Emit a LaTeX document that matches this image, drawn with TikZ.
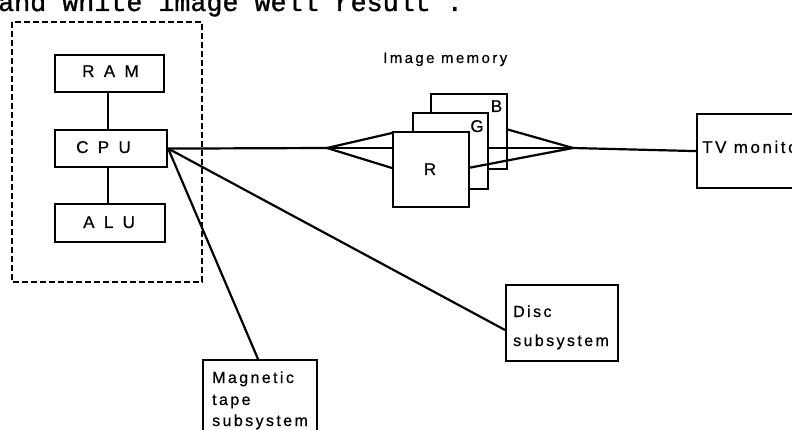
\documentclass[tikz,border=0pt]{standalone}
\usepackage{fontspec}
\setmainfont{Liberation Sans}
\newfontfamily\labfont[LetterSpace=15,FakeBold=0.6]{Liberation Sans}
\newfontfamily\widefont[LetterSpace=55,FakeBold=0.6]{Liberation Sans}
\newfontfamily\memfont[LetterSpace=16,FakeBold=0.4]{Liberation Sans}
\newfontfamily\planefont[FakeBold=0.6]{Liberation Sans}
\newfontfamily\twfont[FakeBold=1.2]{Liberation Mono}
\tikzset{
  box/.style={draw, line width=2.2, fill=white, inner sep=0pt},
  conn/.style={line width=2.2},
  lab/.style={inner sep=0pt, anchor=base west, font=\labfont\fontsize{16}{16}\selectfont},
  widelab/.style={inner sep=0pt, anchor=base west, font=\widefont\fontsize{17}{17}\selectfont},
  plane/.style={inner sep=0pt, anchor=base, font=\planefont\fontsize{17}{17}\selectfont},
}
\begin{document}
\begin{tikzpicture}[x=1pt,y=-1pt]
\useasboundingbox (0,0) rectangle (792,430);
\clip (0,0) rectangle (792,430);
\fill[white] (0,0) rectangle (792,430);
% top text line (cut off)
\node[inner sep=0pt, anchor=base west, font=\twfont\fontsize{26.7}{26.7}\selectfont] (toptext) at (-2,11) {and white image well result .};
% dashed frame
\draw[line width=2, dash pattern=on 6pt off 3pt] (12,22) rectangle (202,282);
% CPU group
\node[box, minimum width=109, minimum height=37, anchor=north west] (ram) at (54,54) {};
\node[box, minimum width=112, minimum height=37, anchor=north west] (cpu) at (54,129) {};
\node[box, minimum width=110, minimum height=38, anchor=north west] (alu) at (54,203) {};
\node[widelab] (ramt) at (82,77) {RAM};
\node[widelab] (cput) at (76,153) {CPU};
\node[widelab] (alut) at (83,228) {ALU};
\coordinate (ramb) at (108,91);
\coordinate (cput1) at (108,129);
\coordinate (cpub) at (108,166);
\coordinate (alut1) at (108,203);
\draw[conn] (ramb) -- (cput1);
\draw[conn] (cpub) -- (alut1);
% image memory
\node[inner sep=0pt, anchor=base west, font=\memfont\fontsize{15}{15}\selectfont] (memt) at (383,63) {Image memory};
\node[box, minimum width=76, minimum height=75, anchor=north west] (bplane) at (430,93) {};
\node[box, minimum width=75, minimum height=76, anchor=north west] (gplane) at (412,112) {};
\node[box, minimum width=76, minimum height=75, anchor=north west] (rplane) at (392,131) {};
\node[plane] (bt) at (496.5,112) {B};
\node[plane] (gt) at (477,132) {G};
\node[plane] (rt) at (430,175) {R};
\coordinate (lapex) at (327,148);
\coordinate (rapex) at (573,148);
\coordinate (rin1) at (392,133);
\coordinate (rin2) at (392,148);
\coordinate (rin3) at (392,168);
\coordinate (bout) at (506,129);
\coordinate (gout) at (487,148);
\coordinate (rout) at (468,168);
\draw[conn] (cpu.east) -- (lapex);
\draw[conn] (lapex) -- (rin1);
\draw[conn] (lapex) -- (rin2);
\draw[conn] (lapex) -- (rin3);
\draw[conn] (bout) -- (rapex);
\draw[conn] (gout) -- (rapex);
\draw[conn] (rout) -- (rapex);
% TV monitor
\node[box, minimum width=120, minimum height=74, anchor=north west] (tv) at (696,113) {};
\node[lab, font=\labfont\fontsize{17}{17}\selectfont] (tvt) at (702,153) {TV monitor};
\draw[conn] (rapex) -- (tv.west);
% Disc
\node[box, minimum width=112, minimum height=76, anchor=north west] (disc) at (505,284) {};
\node[lab] (disct1) at (513,317) {Disc};
\node[lab] (disct2) at (513,346) {subsystem};
\coordinate (discin) at (505,330);
\draw[conn] (cpu.east) -- (discin);
% Magnetic tape
\node[box, minimum width=114, minimum height=90, anchor=north west] (tape) at (202,359) {};
\node[lab] (tapet1) at (212,383) {Magnetic};
\node[lab] (tapet2) at (212,405) {tape};
\node[lab] (tapet3) at (212,426) {subsystem};
\coordinate (tapein) at (258,359);
\draw[conn] (cpu.east) -- (tapein);
\end{tikzpicture}
\end{document}
